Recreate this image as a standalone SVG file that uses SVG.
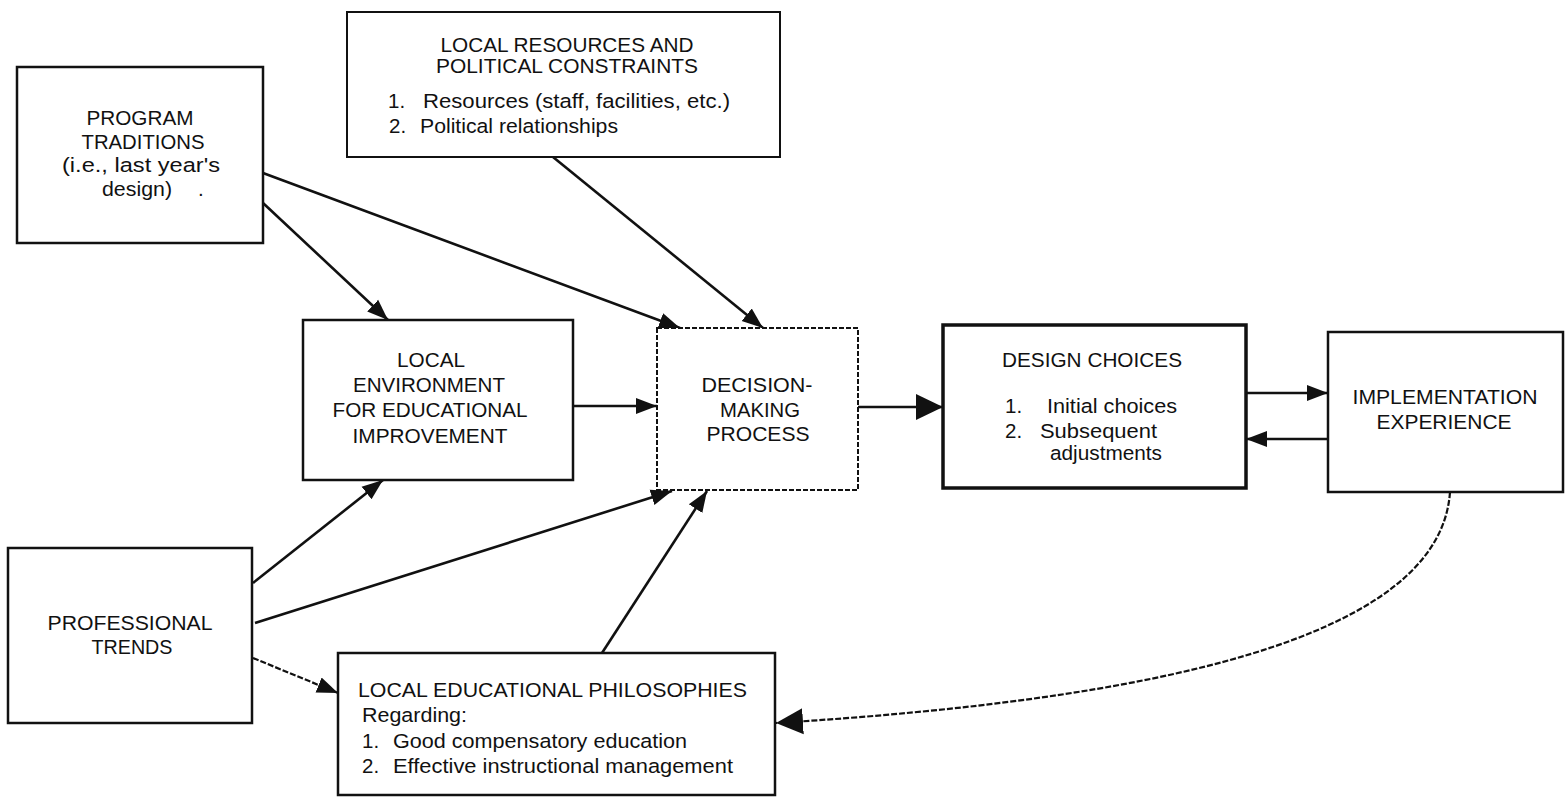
<svg xmlns="http://www.w3.org/2000/svg" width="1568" height="798" viewBox="0 0 1568 798">
<style>
  .box{fill:#fff;stroke:#111;stroke-width:2.5}
  .thick{stroke-width:3.5}
  .dash{stroke-dasharray:5 2;stroke-width:2}
  text{font-family:"Liberation Sans",Arial,sans-serif;font-size:20.5px;fill:#111}
  .c{text-anchor:middle}
  .ln{fill:none;stroke:#111;stroke-width:2.6}
  .dl{fill:none;stroke:#111;stroke-width:2.2;stroke-dasharray:6 2}
</style>
<defs>
  <marker id="a" markerUnits="userSpaceOnUse" markerWidth="22" markerHeight="18" refX="21" refY="9" orient="auto">
    <path d="M0,1 L21,9 L0,17 Z" fill="#111"/>
  </marker>
  <marker id="b" markerUnits="userSpaceOnUse" markerWidth="28" markerHeight="28" refX="27" refY="14" orient="auto">
    <path d="M0,1 L27,14 L0,27 Z" fill="#111"/>
  </marker>
</defs>
<rect width="1568" height="798" fill="#fff"/>

<g id="connectors">
  <line class="ln" x1="263" y1="203" x2="388" y2="320" marker-end="url(#a)"/>
  <line class="ln" x1="263" y1="173" x2="680" y2="328" marker-end="url(#a)"/>
  <line class="ln" x1="553" y1="157" x2="763" y2="328" marker-end="url(#a)"/>
  <line class="ln" x1="573" y1="406" x2="657" y2="406" marker-end="url(#a)"/>
  <line class="ln" x1="253" y1="583" x2="383" y2="480" marker-end="url(#a)"/>
  <line class="ln" x1="255" y1="623" x2="672" y2="491" marker-end="url(#a)"/>
  <line class="ln" x1="602" y1="653" x2="707" y2="491" marker-end="url(#a)"/>
  <line class="dl" x1="253" y1="658" x2="338" y2="693" marker-end="url(#a)"/>
  <line class="ln" x1="858" y1="407" x2="943" y2="407" marker-end="url(#b)"/>
  <line class="ln" x1="1246" y1="393" x2="1328" y2="393" marker-end="url(#a)"/>
  <line class="ln" x1="1328" y1="439" x2="1246" y2="439" marker-end="url(#a)"/>
  <path class="dl" d="M1450,492 C1440,640 1150,700 776,723" marker-end="url(#b)"/>
</g>

<g id="program-traditions">
  <rect class="box" x="17" y="67" width="246" height="176"/>
  <text class="c" x="140" y="125" textLength="107" lengthAdjust="spacingAndGlyphs">PROGRAM</text>
  <text class="c" x="143" y="149" textLength="123" lengthAdjust="spacingAndGlyphs">TRADITIONS</text>
  <text x="62" y="172" textLength="158" lengthAdjust="spacingAndGlyphs">(i.e.,  last year's</text>
  <text x="102" y="196" textLength="70" lengthAdjust="spacingAndGlyphs">design)</text>
  <text x="198" y="196">.</text>
</g>

<g id="local-resources">
  <rect class="box" x="347" y="12" width="433" height="145" style="stroke-width:2"/>
  <text class="c" x="567" y="52" textLength="253" lengthAdjust="spacingAndGlyphs">LOCAL RESOURCES AND</text>
  <text class="c" x="567" y="73" textLength="262" lengthAdjust="spacingAndGlyphs">POLITICAL CONSTRAINTS</text>
  <text x="388" y="108">1.</text>
  <text x="423" y="108" textLength="307" lengthAdjust="spacingAndGlyphs">Resources (staff, facilities, etc.)</text>
  <text x="389" y="133">2.</text>
  <text x="420" y="133" textLength="198" lengthAdjust="spacingAndGlyphs">Political relationships</text>
</g>

<g id="local-environment">
  <rect class="box" x="303" y="320" width="270" height="160"/>
  <text class="c" x="431" y="367" textLength="68" lengthAdjust="spacingAndGlyphs">LOCAL</text>
  <text class="c" x="429" y="392" textLength="152" lengthAdjust="spacingAndGlyphs">ENVIRONMENT</text>
  <text class="c" x="430" y="417" textLength="195" lengthAdjust="spacingAndGlyphs">FOR EDUCATIONAL</text>
  <text class="c" x="430" y="443" textLength="155" lengthAdjust="spacingAndGlyphs">IMPROVEMENT</text>
</g>

<g id="decision-making">
  <rect class="box dash" x="657" y="328" width="201" height="162"/>
  <text class="c" x="757" y="392" textLength="111" lengthAdjust="spacingAndGlyphs">DECISION-</text>
  <text class="c" x="760" y="417" textLength="80" lengthAdjust="spacingAndGlyphs">MAKING</text>
  <text class="c" x="758" y="441" textLength="103" lengthAdjust="spacingAndGlyphs">PROCESS</text>
</g>

<g id="design-choices">
  <rect class="box thick" x="943" y="325" width="303" height="163"/>
  <text class="c" x="1092" y="367" textLength="180" lengthAdjust="spacingAndGlyphs">DESIGN CHOICES</text>
  <text x="1005" y="413">1.</text>
  <text x="1047" y="413" textLength="130" lengthAdjust="spacingAndGlyphs">Initial choices</text>
  <text x="1005" y="438">2.</text>
  <text x="1040" y="438" textLength="117" lengthAdjust="spacingAndGlyphs">Subsequent</text>
  <text x="1050" y="460" textLength="112" lengthAdjust="spacingAndGlyphs">adjustments</text>
</g>

<g id="implementation">
  <rect class="box" x="1328" y="332" width="235" height="160"/>
  <text class="c" x="1445" y="404" textLength="185" lengthAdjust="spacingAndGlyphs">IMPLEMENTATION</text>
  <text class="c" x="1444" y="429" textLength="135" lengthAdjust="spacingAndGlyphs">EXPERIENCE</text>
</g>

<g id="professional-trends">
  <rect class="box" x="8" y="548" width="244" height="175"/>
  <text class="c" x="130" y="630" textLength="165" lengthAdjust="spacingAndGlyphs">PROFESSIONAL</text>
  <text class="c" x="132" y="654" textLength="81" lengthAdjust="spacingAndGlyphs">TRENDS</text>
</g>

<g id="local-philosophies">
  <rect class="box" x="338" y="653" width="437" height="142"/>
  <text x="358" y="697" textLength="389" lengthAdjust="spacingAndGlyphs">LOCAL EDUCATIONAL PHILOSOPHIES</text>
  <text x="362" y="722" textLength="105" lengthAdjust="spacingAndGlyphs">Regarding:</text>
  <text x="362" y="748">1.</text>
  <text x="393" y="748" textLength="294" lengthAdjust="spacingAndGlyphs">Good compensatory education</text>
  <text x="362" y="773">2.</text>
  <text x="393" y="773" textLength="340" lengthAdjust="spacingAndGlyphs">Effective instructional management</text>
</g>
</svg>
